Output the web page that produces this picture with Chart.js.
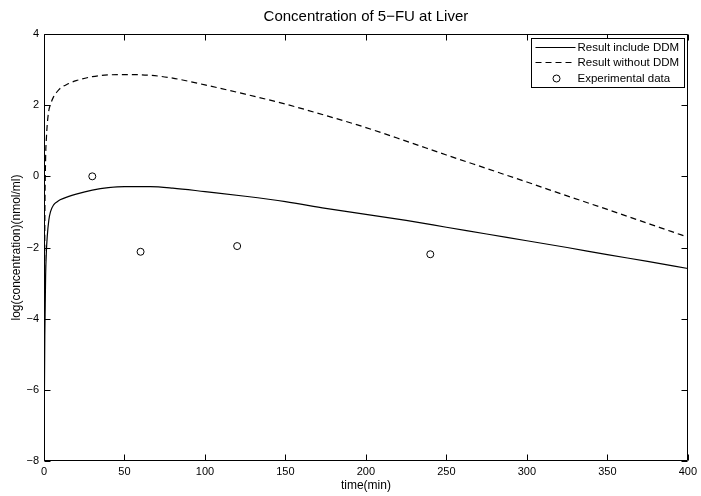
<!DOCTYPE html>
<html>
<head>
<meta charset="utf-8">
<script src="https://cdn.jsdelivr.net/npm/chart.js@4/dist/chart.umd.min.js"></script>
<style>
  html, body { margin: 0; padding: 0; background: #fff; }
  #wrap { width: 701px; height: 496px; }
</style>
</head>
<body>
<div id="wrap"><canvas id="c" width="701" height="496"></canvas></div>
<script>
// Simulated 5-FU concentration in liver (log scale), with and without DDM
const timeMin = [0, 0.5, 1, 1.5, 2, 3, 4, 6, 8, 10, 15, 20, 30, 40, 50, 66, 80, 100, 125, 150, 175, 200, 225, 250, 275, 300, 325, 350, 375, 400];
const withDDM = [-8, -4.5, -2.8, -2.1, -1.7, -1.23, -1.0, -0.8, -0.72, -0.66, -0.57, -0.5, -0.39, -0.32, -0.29, -0.29, -0.33, -0.43, -0.56, -0.71, -0.9, -1.07, -1.24, -1.43, -1.62, -1.81, -2.0, -2.2, -2.39, -2.59];
const withoutDDM = [-8, -1.5, 0.5, 1.08, 1.45, 1.85, 2.02, 2.24, 2.37, 2.47, 2.6, 2.69, 2.8, 2.85, 2.86, 2.84, 2.76, 2.57, 2.31, 2.03, 1.71, 1.37, 0.99, 0.6, 0.22, -0.16, -0.55, -0.93, -1.32, -1.71];

// Measured points
const expTime = [30, 60, 120, 240];
const expValue = [0.0, -2.12, -1.96, -2.19];

const xTicks = [0, 50, 100, 150, 200, 250, 300, 350, 400];
const yTicks = [-8, -6, -4, -2, 0, 2, 4];
const seriesNames = ['Result include DDM', 'Result without DDM', 'Experimental data'];
const chartTitle = 'Concentration of 5\u2212FU at Liver';

const FONT = '"Liberation Sans", Arial, Helvetica, sans-serif';
const minus = v => String(v).replace('-', '\u2212');

// Title centred over the plot box, boxed axes with inward ticks, in-plot legend
const framePlugin = {
  id: 'frame',
  afterDraw(chart) {
    const { ctx, chartArea: a, scales: { x, y } } = chart;
    const L = Math.round(a.left) + 0.5, R = Math.round(a.right) - 0.5;
    const T = Math.round(a.top) + 0.5, B = Math.round(a.bottom) - 0.5;
    const tk = 6;
    ctx.save();

    ctx.fillStyle = '#000';
    ctx.font = '15px ' + FONT;
    ctx.textAlign = 'center';
    ctx.textBaseline = 'alphabetic';
    ctx.fillText(chartTitle, (a.left + a.right) / 2, 20.5);

    ctx.strokeStyle = '#000';
    ctx.lineWidth = 1;
    ctx.beginPath();
    ctx.rect(L, T, R - L, B - T);
    xTicks.forEach(v => {
      const px = Math.round(x.getPixelForValue(v)) + 0.5;
      ctx.moveTo(px, B); ctx.lineTo(px, B - tk);
      ctx.moveTo(px, T); ctx.lineTo(px, T + tk);
    });
    yTicks.forEach(v => {
      const py = Math.round(y.getPixelForValue(v)) + 0.5;
      ctx.moveTo(L, py); ctx.lineTo(L + tk, py);
      ctx.moveTo(R, py); ctx.lineTo(R - tk, py);
    });
    ctx.stroke();

    // legend
    const bw = 153, bh = 49;
    const bx = Math.round(a.right) - 4 - bw + 0.5;
    const by = Math.round(a.top) + 4 + 0.5;
    ctx.fillStyle = '#fff';
    ctx.fillRect(bx, by, bw, bh);
    ctx.strokeRect(bx, by, bw, bh);
    const rows = [by + 8, by + 23.5, by + 39];
    ctx.font = '11.5px ' + FONT;
    ctx.fillStyle = '#000';
    ctx.textBaseline = 'middle';
    ctx.textAlign = 'left';
    seriesNames.forEach((name, i) => {
      const ry = Math.round(rows[i]) + 0.5;
      ctx.beginPath();
      if (i === 0 || i === 1) {
        ctx.setLineDash(i === 1 ? [6, 4] : []);
        ctx.moveTo(bx + 4, ry); ctx.lineTo(bx + 44, ry);
        ctx.stroke();
        ctx.setLineDash([]);
      } else {
        ctx.arc(bx + 25, ry, 3.5, 0, Math.PI * 2);
        ctx.stroke();
      }
      ctx.fillText(name, bx + 46, ry);
    });
    ctx.restore();
  }
};

new Chart(document.getElementById('c'), {
  type: 'scatter',
  data: {
    datasets: [
      {
        label: seriesNames[0],
        data: timeMin.map((t, i) => ({ x: t, y: withDDM[i] })),
        showLine: true,
        borderColor: '#000',
        borderWidth: 1.2,
        pointRadius: 0,
        cubicInterpolationMode: 'monotone'
      },
      {
        label: seriesNames[1],
        data: timeMin.map((t, i) => ({ x: t, y: withoutDDM[i] })),
        showLine: true,
        borderColor: '#000',
        borderWidth: 1.2,
        borderDash: [6, 4],
        pointRadius: 0,
        cubicInterpolationMode: 'monotone'
      },
      {
        label: seriesNames[2],
        data: expTime.map((t, i) => ({ x: t, y: expValue[i] })),
        showLine: false,
        pointStyle: 'circle',
        pointRadius: 3.5,
        pointBorderWidth: 1,
        pointBorderColor: '#000',
        pointBackgroundColor: 'rgba(0,0,0,0)'
      }
    ]
  },
  options: {
    responsive: false,
    devicePixelRatio: 1,
    animation: false,
    layout: { padding: { left: 0, right: 13, top: 34, bottom: 0 } },
    plugins: {
      legend: { display: false },
      tooltip: { enabled: false },
      title: { display: false }
    },
    scales: {
      x: {
        type: 'linear',
        min: 0, max: 400,
        afterBuildTicks: s => { s.ticks = xTicks.map(v => ({ value: v })); },
        afterFit: s => { s.height = 35; },
        grid: { display: false, drawTicks: false },
        border: { display: false },
        ticks: {
          color: '#000', padding: 4, maxRotation: 0, autoSkip: false,
          font: { family: FONT, size: 11 },
          callback: v => minus(v)
        },
        title: {
          display: true, text: 'time(min)', color: '#000',
          font: { family: FONT, size: 12, lineHeight: 1.2 },
          padding: { top: 0, bottom: 2.8 }
        }
      },
      y: {
        type: 'linear',
        min: -8, max: 4,
        afterBuildTicks: s => { s.ticks = yTicks.map(v => ({ value: v })); },
        afterFit: s => { s.width = 44; },
        grid: { display: false, drawTicks: false },
        border: { display: false },
        ticks: {
          color: '#000', padding: 5, autoSkip: false,
          font: { family: FONT, size: 11 },
          callback: v => minus(v)
        },
        title: {
          display: true, text: 'log(concentration)(nmol/ml)', color: '#000',
          font: { family: FONT, size: 12, lineHeight: 1.2 },
          padding: { top: 9.8, bottom: 0 }
        }
      }
    }
  },
  plugins: [framePlugin]
});
</script>
</body>
</html>
